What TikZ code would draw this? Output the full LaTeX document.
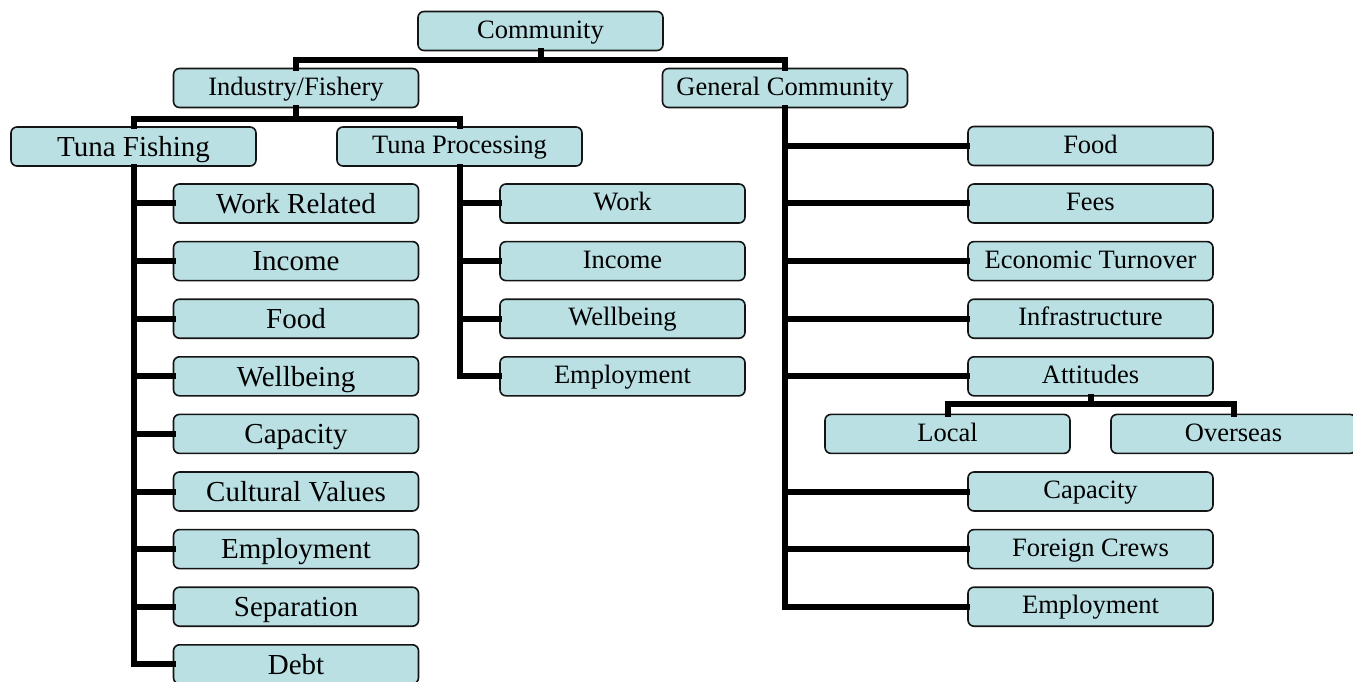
\documentclass[tikz,border=0pt]{standalone}
\usepackage{fontspec}
\setmainfont{Liberation Serif}
\definecolor{boxfill}{RGB}{186,224,227}
\definecolor{boxline}{RGB}{20,20,20}
\tikzset{
  box/.style={draw=boxline, line width=1.6pt, fill=boxfill, rounded corners=6pt,
    minimum width=245pt, minimum height=39pt, inner sep=0pt, align=center,
    font=\fontsize{26.5}{30}\selectfont, text height=18pt, text depth=3.5pt},
  bigbox/.style={box, font=\fontsize{29}{33}\selectfont, text height=21pt, text depth=1.6pt},
  conn/.style={line width=6pt, line join=miter, line cap=rect},
}
\begin{document}
\begin{tikzpicture}[x=1pt,y=-1pt]
\useasboundingbox (0,0) rectangle (1353,682);

% rows where the branches split
\coordinate (r0) at (0,60);
\coordinate (r1) at (0,119);
\coordinate (r2) at (0,404);

% top levels
\node[box] (com) at (540.5,31) {Community};
\node[box] (ind) at (296,88) {Industry/Fishery};
\node[box] (gen) at (785,88) {General Community};
\node[bigbox] (tf) at (133.5,146.5) {Tuna Fishing};
\node[box] (tp) at (459.5,146.5) {Tuna Processing};

% Tuna Fishing children
\foreach \n/\t [count=\i from 0] in {wr/Work Related, tfi/Income, tff/Food, tfw/Wellbeing,
    tfc/Capacity, cv/Cultural Values, tfe/Employment, sep/Separation, debt/Debt}
  \node[bigbox] (\n) at (296,203.5+57.6*\i) {\t};

% Tuna Processing children
\foreach \n/\t [count=\i from 0] in {tpw/Work, tpi/Income, tpwb/Wellbeing, tpe/Employment}
  \node[box] (\n) at (622.5,203.5+57.6*\i) {\t};

% General Community children
\node[box] (gfood) at (1090.5,146) {Food};
\node[box] (gfees) at (1090.5,203.5) {Fees};
\node[box] (geco)  at (1090.5,261.1) {Economic Turnover};
\node[box] (ginf)  at (1090.5,318.7) {Infrastructure};
\node[box] (gatt)  at (1090.5,376.3) {Attitudes};
\node[box] (loc)   at (947.5,433.9) {Local};
\node[box] (ovs)   at (1233.5,433.9) {Overseas};
\node[box] (gcap)  at (1090.5,491.5) {Capacity};
\node[box] (gfc)   at (1090.5,549.1) {Foreign Crews};
\node[box] (gemp)  at (1090.5,606.7) {Employment};

% tree connectors
\draw[conn] (com.south) -- (com.south |- r0);
\draw[conn] (ind.north) -- (ind.north |- r0) -- (gen.north |- r0) -- (gen.north);
\draw[conn] (ind.south) -- (ind.south |- r1);
\draw[conn] (tf.north) -- (tf.north |- r1) -- (tp.north |- r1) -- (tp.north);

\draw[conn] (tf.south) |- (debt.west);
\foreach \n in {wr,tfi,tff,tfw,tfc,cv,tfe,sep}
  \draw[conn] (tf.south |- \n.west) -- (\n.west);

\draw[conn] (tp.south) |- (tpe.west);
\foreach \n in {tpw,tpi,tpwb}
  \draw[conn] (tp.south |- \n.west) -- (\n.west);

\draw[conn] (gen.south) |- (gemp.west);
\foreach \n in {gfood,gfees,geco,ginf,gatt,gcap,gfc}
  \draw[conn] (gen.south |- \n.west) -- (\n.west);

\draw[conn] (gatt.south) -- (gatt.south |- r2);
\draw[conn] (loc.north) -- (loc.north |- r2) -- (ovs.north |- r2) -- (ovs.north);
\end{tikzpicture}
\end{document}
